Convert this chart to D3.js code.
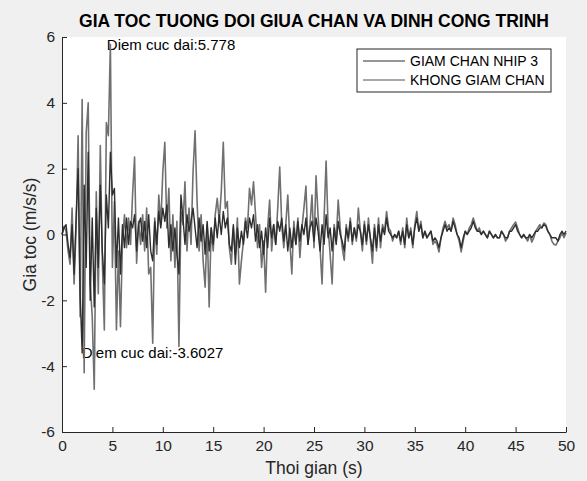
<!DOCTYPE html>
<html><head><meta charset="utf-8">
<script src="https://cdn.jsdelivr.net/npm/d3@7"></script>
<style>
body{margin:0;background:#f0f0f0;}
svg{display:block;font-family:"Liberation Sans",Arial,Helvetica,sans-serif;}
</style>
</head><body>
<svg id="chart" width="587" height="481"></svg>
<script>
const chartTitle = "GIA TOC TUONG DOI GIUA CHAN VA DINH CONG TRINH";
const xLabel = "Thoi gian (s)";
const yLabel = "Gia toc (m/s/s)";
const seriesNames = ["GIAM CHAN NHIP 3", "KHONG GIAM CHAN"];
const sampleStep = 0.2; // seconds between samples
const xTicks = [0, 5, 10, 15, 20, 25, 30, 35, 40, 45, 50];
const yTicks = [-6, -4, -2, 0, 2, 4, 6];

// GIAM CHAN NHIP 3 (damped), one row per second
const giamChan = [
  0.0, 0.2, 0.3, -0.3, -0.7,
  0.3, -1.2, 0.5, 2.0, -1.8,
  -3.6027, 1.5, -1.0, 2.5, -2.0,
  0.5, -2.2, 0.8, -1.0, 1.5,
  -0.5, -1.5, 1.2, 0.2, 2.5,
  1.2, 1.4, -1.0, 0.5, -1.2,
  0.3, -0.4, 0.5, -0.3, 0.4,
  0.2, 0.6, -0.5, 0.3, 0.5,
  -0.2, 0.4, -0.4, 0.6, -0.5,
  -0.8, 0.4, -0.3, 0.7, 0.2,
  0.8, 0.4, 0.9, -0.4, 0.3,
  -0.5, 0.2, -0.6, -1.2, 1.2,
  0.5, -0.3, 0.6, 0.1, 0.4,
  0.8, 0.2, -0.4, 0.5, -0.2,
  0.3, -0.6, 0.4, -0.5, 0.2,
  -0.3, 0.5, -0.1, 0.6, 0.0,
  0.7, 0.2, 0.5, -0.3, -0.5,
  0.3, -0.9, 0.2, -0.4, 0.1,
  -0.3, 0.4, -0.1, 0.5, 0.2,
  0.6, -0.2, 0.3, -0.4, 0.1,
  -0.6, 0.2, -0.4, 0.5, -0.1,
  0.3, -0.3, 0.4, 0.1, 0.5,
  -0.2, 0.3, -0.5, 0.2, -0.4,
  0.2, -0.3, 0.4, -0.2, 0.3,
  0.0, 0.5, -0.3, 0.2, 0.4,
  -0.2, 0.5, 0.1, -0.5, 0.3,
  -0.3, 0.6, -0.1, 0.2, -0.5,
  0.2, -0.3, 0.4, 0.0, -0.2,
  -0.5, 0.2, -0.1, 0.4, -0.2,
  0.2, -0.1, 0.3, 0.1, -0.3,
  0.3, -0.2, 0.3, -0.1, -0.5,
  0.2, -0.4, 0.3, -0.2, 0.2,
  0.0, 0.5, 0.1, 0.0, -0.1,
  0.0, -0.1, 0.1, -0.2, 0.1,
  -0.3, 0.3, -0.1, 0.1, -0.3,
  0.2, 0.5, 0.1, 0.3, -0.1,
  0.1, -0.1, 0.0, 0.1, -0.2,
  -0.1, -0.2, -0.4, -0.1, 0.1,
  0.3, 0.1, 0.2, 0.1, 0.4,
  0.2, 0.0, -0.1, -0.4, -0.1,
  0.1, 0.0, 0.1, 0.2, 0.4,
  0.2, 0.1, 0.1, 0.0, 0.1,
  0.0, -0.1, 0.1, 0.0, -0.1,
  0.0, -0.1, -0.1, 0.1, 0.0,
  -0.1, -0.1, 0.1, 0.1, 0.2,
  0.3, 0.1, 0.0, -0.1, 0.0,
  -0.1, -0.1, 0.0, -0.1, 0.0,
  0.1, 0.1, 0.2, 0.2, 0.3,
  0.25, 0.1, 0.0, -0.1, -0.1,
  -0.1, -0.2, 0.0, 0.1, 0.0,
  0.1
];

// KHONG GIAM CHAN (undamped), one row per second
const khongGiamChan = [
  0.0, 0.25, 0.1, -0.5, -0.9,
  0.8, -1.5, 0.2, 3.0, -2.5,
  4.1, -4.2, 3.1, 4.0, -1.5,
  -2.5, -4.7, 1.3, -1.8, 2.7,
  -0.8, -2.9, 3.4, 3.0, 5.778,
  -1.0, 1.0, -2.9, -0.5, -2.8,
  -0.2, 0.6, -0.4, 0.5, -0.3,
  1.2, 2.35, -0.87, 0.4, -0.3,
  0.6, -0.5, 0.8, -1.2, -1.0,
  -3.3, 0.5, -0.6, 1.2, 0.3,
  1.9, 2.8, 0.2, 1.4, -0.8,
  0.6, -1.0, 0.4, -3.4, 0.7,
  0.3, 1.6, -0.5, 0.8, -0.3,
  1.9, 3.15, 1.0, -0.5, 0.6,
  -0.8, -1.6, 0.3, -2.2, 0.2,
  -0.5, 0.6, 1.1, 0.4, 1.3,
  2.8, 0.8, 1.0, -0.4, -0.9,
  0.2, -0.6, 0.5, -1.5, -0.8,
  -0.2, 0.5, 0.2, 1.4, 0.9,
  1.6, 0.6, -0.4, 0.3, -1.0,
  -0.2, -1.75, 0.2, 1.05, -0.5,
  0.3, -0.3, 0.8, 2.05, 0.3,
  -0.4, 0.3, 1.2, -0.2, -1.2,
  0.4, -0.3, 0.5, -0.7, 0.2,
  0.8, 1.47, -0.3, 0.3, 1.2,
  -0.4, 1.78, 0.6, -0.4, -1.5,
  0.5, 2.23, 0.2, -0.6, -1.5,
  0.3, -0.2, 1.05, 0.2, -0.4,
  -0.78, 0.3, -0.2, 0.5, -0.3,
  0.2, -0.2, 0.8, 0.1, -0.5,
  0.4, -0.3, 0.5, -0.2, -0.87,
  0.3, -0.5, 0.5, -0.4, 0.3,
  0.1, 0.7, 0.2, 0.1, -0.2,
  0.0, -0.1, 0.1, -0.3, 0.2,
  -0.4, 0.5, -0.1, 0.2, -0.4,
  0.3, 0.7, 0.1, 0.4, -0.1,
  0.1, -0.1, 0.0, 0.1, -0.3,
  -0.2, -0.3, -0.53, -0.1, 0.2,
  0.4, 0.2, 0.3, 0.1, 0.5,
  0.3, 0.0, -0.2, -0.53, -0.2,
  0.1, 0.0, 0.2, 0.3, 0.5,
  0.3, 0.1, 0.2, 0.0, 0.1,
  0.0, -0.1, 0.1, 0.0, -0.1,
  0.0, -0.1, -0.1, 0.1, 0.0,
  -0.2, -0.1, 0.1, 0.2, 0.3,
  0.38, 0.2, 0.0, -0.1, 0.0,
  -0.1, -0.2, 0.0, -0.23, -0.1,
  0.1, 0.2, 0.3, 0.2, 0.35,
  0.3, 0.1, 0.0, -0.2, -0.3,
  -0.32, -0.2, -0.1, 0.05, -0.1,
  0.05
];

const annotationTimes = [4.45, 1.95];
const annotationValues = [5.778, -3.6027];
const annotationLabels = ["Diem cuc dai:5.778", "Diem cuc dai:-3.6027"];

// ---------- drawing ----------
const svg = d3.select("#chart");
const W = 587, H = 481;
const m = {left: 62, right: 21, top: 37, bottom: 49};
const pw = W - m.left - m.right, ph = H - m.top - m.bottom;
const axisColor = "#262626";

const x = d3.scaleLinear().domain([0, 50]).range([m.left, m.left + pw]);
const y = d3.scaleLinear().domain([-6, 6]).range([m.top + ph, m.top]);

svg.append("rect").attr("width", W).attr("height", H).attr("fill", "#f0f0f0");
svg.append("rect").attr("x", m.left).attr("y", m.top).attr("width", pw).attr("height", ph).attr("fill", "#ffffff");

// annotations (under lines)
annotationLabels.forEach((lab, i) => {
  svg.append("text")
    .attr("x", x(annotationTimes[i])).attr("y", y(annotationValues[i]))
    .attr("dy", "0.35em")
    .attr("font-size", 15).attr("fill", "#000")
    .text(lab);
});

const time = khongGiamChan.map((_, i) => i * sampleStep);
const line = d3.line().x((d, i) => x(time[i])).y(d => y(d));

svg.append("path").datum(khongGiamChan)
  .attr("fill", "none").attr("stroke", "#707070").attr("stroke-width", 1.6)
  .attr("stroke-linejoin", "round").attr("d", line);
svg.append("path").datum(giamChan)
  .attr("fill", "none").attr("stroke", "#2e2e2e").attr("stroke-width", 1.4)
  .attr("stroke-linejoin", "round").attr("d", line);

// axes
const xAxis = d3.axisBottom(x).tickValues(xTicks).tickSizeInner(-5).tickSizeOuter(0).tickPadding(8).tickFormat(d => String(d));
const yAxis = d3.axisLeft(y).tickValues(yTicks).tickSizeInner(-5).tickSizeOuter(0).tickPadding(7).tickFormat(d => String(d));

const gx = svg.append("g").attr("transform", `translate(0,${m.top + ph})`).call(xAxis);
const gy = svg.append("g").attr("transform", `translate(${m.left},0)`).call(yAxis);
[gx, gy].forEach(g => {
  g.select(".domain").attr("stroke", axisColor);
  g.selectAll(".tick line").attr("stroke", axisColor);
  g.selectAll(".tick text").attr("fill", axisColor).attr("font-size", 15.5)
    .attr("font-family", '"Liberation Sans",Arial,sans-serif');
});

// title and labels
svg.append("text").attr("x", m.left + pw / 2).attr("y", 27)
  .attr("text-anchor", "middle").attr("font-size", 17.5).attr("font-weight", "bold")
  .attr("fill", "#000").text(chartTitle);
svg.append("text").attr("x", m.left + pw / 2).attr("y", 474)
  .attr("text-anchor", "middle").attr("font-size", 17.5).attr("fill", axisColor).text(xLabel);
svg.append("text").attr("transform", `translate(36,${m.top + ph / 2}) rotate(-90)`)
  .attr("text-anchor", "middle").attr("font-size", 17.5).attr("fill", axisColor).text(yLabel);

// legend
const lg = svg.append("g").attr("transform", "translate(357,49)");
lg.append("rect").attr("width", 194).attr("height", 43)
  .attr("fill", "#fff").attr("stroke", axisColor).attr("stroke-width", 1);
const legendColors = ["#2e2e2e", "#555555"];
seriesNames.forEach((name, i) => {
  const yy = 12 + i * 19;
  lg.append("line").attr("x1", 6).attr("x2", 48).attr("y1", yy).attr("y2", yy)
    .attr("stroke", legendColors[i]).attr("stroke-width", 1);
  lg.append("text").attr("x", 53).attr("y", yy).attr("dy", "0.35em")
    .attr("font-size", 14).attr("fill", "#000").text(name);
});
</script>
</body></html>
